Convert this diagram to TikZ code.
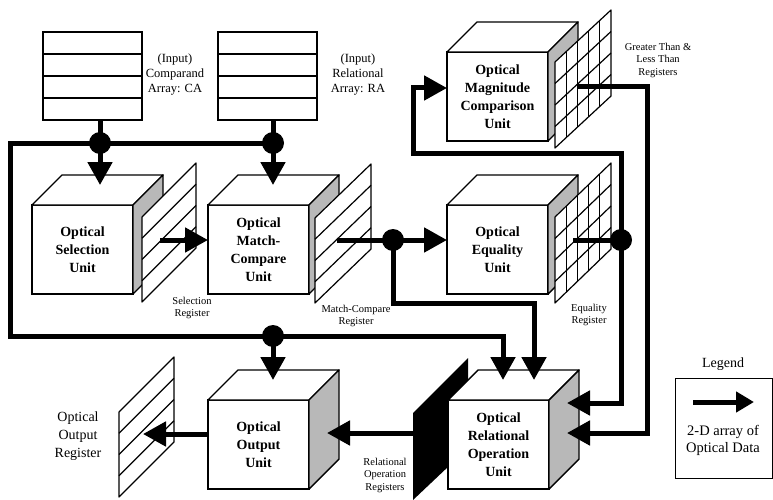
\documentclass[tikz,border=0pt]{standalone}
\usepackage{fontspec}
\setmainfont{Liberation Serif}
\usetikzlibrary{arrows.meta,calc}

\definecolor{sidegray}{gray}{0.72}

% front face + top face + shaded side face of a unit block
\newcommand\opticalunit[4]{%
  \node[face, anchor=north west] (#1) at (#2,#3) {#4};
  \draw[edge, fill=white] (#1.north west) -- ++(30,-30) -- ++(101,0) -- (#1.north east) -- cycle;
  \draw[edge, fill=sidegray] (#1.north east) -- ++(30,-30) -- ++(0,89) -- (#1.south east) -- cycle;
}
% slanted register plate: name, left x, left-top y, width, rise, height
\newcommand\regplate[6]{%
  \coordinate (#1-a) at (#2,#3);
  \coordinate (#1-b) at ({#2+#4},{#3-#5});
  \coordinate (#1-c) at ({#2+#4},{#3-#5+#6});
  \coordinate (#1-d) at (#2,{#3+#6});
  \draw[regline, fill=white] (#1-a) -- (#1-b) -- (#1-c) -- (#1-d) -- cycle;
  \foreach \k in {1,2,3}
    \draw[regline] ($(#1-a)!\k/4!(#1-d)$) -- ($(#1-b)!\k/4!(#1-c)$);
}
% same plate with a 2-D grid of cells
\newcommand\gridplate[6]{%
  \regplate{#1}{#2}{#3}{#4}{#5}{#6}
  \foreach \j in {1,2,3,4}
    \draw[regline] ($(#1-a)!\j/5!(#1-b)$) -- ($(#1-d)!\j/5!(#1-c)$);
}

\begin{document}
\begin{tikzpicture}[x=1pt,y=-1pt,
  face/.style={draw, line width=1.4pt, fill=white, inner sep=0pt, outer sep=0pt,
    minimum width=101pt, minimum height=89pt, align=center,
    font=\bfseries\fontsize{14}{18}\selectfont},
  edge/.style={line width=1.4pt, line join=round},
  regline/.style={line width=1.2pt, line join=round},
  arraybox/.style={draw, line width=1.3pt, inner sep=0pt, outer sep=0pt,
    minimum width=99pt, minimum height=88pt},
  bus/.style={line width=5pt},
  flow/.style={line width=5pt, -{Triangle[length=23pt,width=24pt]}},
  junction/.style={circle, fill=black, inner sep=0pt, minimum size=22pt},
  smalltext/.style={align=center, font=\fontsize{10.5}{12.5}\selectfont},
  midtext/.style={align=center, font=\fontsize{12.5}{15}\selectfont},
  bigtext/.style={align=center, font=\fontsize{14}{18}\selectfont}
]
\useasboundingbox (0,0) rectangle (773,500);

% ---- input arrays ----
\node[arraybox, anchor=north west] (ca) at (43,32) {};
\node[arraybox, anchor=north west] (ra) at (218,32) {};
\foreach \a in {ca,ra}
  \foreach \k in {1,2,3}
    \draw[line width=1.3pt] ($(\a.north west)!\k/4!(\a.south west)$) -- ($(\a.north east)!\k/4!(\a.south east)$);
\node[midtext] (calabel) at (175,75) {(Input)\\Comparand\\Array: CA};
\node[midtext] (ralabel) at (358,75) {(Input)\\Relational\\Array: RA};

% ---- units and their registers ----
\opticalunit{sel}{32}{205}{Optical\\Selection\\Unit}
\regplate{selreg}{142}{217}{54}{54}{85}

\opticalunit{mc}{208}{205}{Optical\\Match-\\Compare\\Unit}
\regplate{mcreg}{315}{218}{56}{54}{85}

\opticalunit{mag}{447}{52}{Optical\\Magnitude\\Comparison\\Unit}
\gridplate{magreg}{555}{62}{56}{52}{86}

\opticalunit{eq}{447}{205}{Optical\\Equality\\Unit}
\gridplate{eqreg}{555}{217}{56}{54}{86}

% relational operation registers (solid plate behind the unit)
\fill (413,413) coordinate (relreg-a) -- (468,358) -- (468,448) -- (413,500) coordinate (relreg-d) -- cycle;
\opticalunit{rel}{448}{400}{Optical\\Relational\\Operation\\Unit}

\opticalunit{out}{208}{400}{Optical\\Output\\Unit}
\regplate{outreg}{119}{412}{55}{55}{85}

% ---- junctions ----
\node[junction] (jca) at (100,143) {};
\node[junction] (jra) at (273,143) {};
\node[junction] (jmc) at (393,240) {};
\node[junction] (jeq) at (621,240) {};
\node[junction] (jbus) at (273,336) {};

% ---- connector end points ----
\coordinate (busTL) at (10,143);
\coordinate (busBL) at (10,336);
\coordinate (selIn) at (100,185);
\coordinate (mcIn) at (273,185);
\coordinate (selOut) at (160,240);
\coordinate (mcOut) at (337,240);
\coordinate (eqOut) at (573,240);
\coordinate (magOut) at (577,87);
\coordinate (magIn) at (447,88);
\coordinate (relTopA) at (503,380);
\coordinate (relTopB) at (534,380);
\coordinate (relSideA) at (567,403);
\coordinate (relSideB) at (567,433);
\coordinate (outTop) at (273,380);
\coordinate (relRegOut) at (413,433);
\coordinate (outSide) at (327,433);
\coordinate (outLeft) at (208,434);
\coordinate (outRegIn) at (143,434);

% ---- data paths ----
\draw[bus] (ca.south -| jca) -- (jca.center);
\draw[bus] (ra.south -| jra) -- (jra.center);
\draw[flow] (jca.center) -- (selIn);
\draw[flow] (jra.center) -- (mcIn);
\draw[flow] (jra.center) -- (busTL) -- (busBL) -- (busBL -| relTopA) -- (relTopA);
\draw[flow] (jbus.center) -- (outTop);

\draw[flow] (selOut) -- (selOut -| mc.west);
\draw[bus] (mcOut) -- (jmc.center);
\draw[flow] (jmc.center) -- (jmc -| eq.west);
\draw[flow] (jmc.center) -- (393,303) -- (534,303) -- (relTopB);

\draw[bus] (eqOut) -- (jeq.center);
\draw[flow] (jeq.center) -- (621,153) -- (413,153) -- (413,88) -- (magIn);
\draw[flow] (jeq.center) -- (621,403) -- (relSideA);
\draw[flow] (magOut) -- (647,87) -- (647,433) -- (relSideB);

\draw[flow] (relRegOut) -- (outSide);
\draw[flow] (outLeft) -- (outRegIn);

% ---- labels ----
\node[smalltext] (gtlabel) at (658,60) {Greater Than \&\\Less Than\\Registers};
\node[smalltext] (sellabel) at (192,308) {Selection\\Register};
\node[smalltext] (mclabel) at (356,316) {Match-Compare\\Register};
\node[smalltext] (eqlabel) at (589,315) {Equality\\Register};
\node[smalltext] (rellabel) at (385,475) {Relational\\Operation\\Registers};
\node[bigtext] (outlabel) at (78,436) {Optical\\Output\\Register};

% ---- legend ----
\node[bigtext] (legendtitle) at (723,364) {Legend};
\node[draw, line width=1pt, minimum width=97pt, minimum height=100pt, inner sep=0pt] (legend) at (723.5,428) {};
\coordinate (legA) at (693,402);
\coordinate (legB) at (754,402);
\draw[line width=5pt, -{Triangle[length=18pt,width=20pt]}] (legA) -- (legB);
\node[bigtext, font=\fontsize{14.5}{17}\selectfont] (legtext) at (723,440) {2-D array of\\Optical Data};
\end{tikzpicture}
\end{document}
